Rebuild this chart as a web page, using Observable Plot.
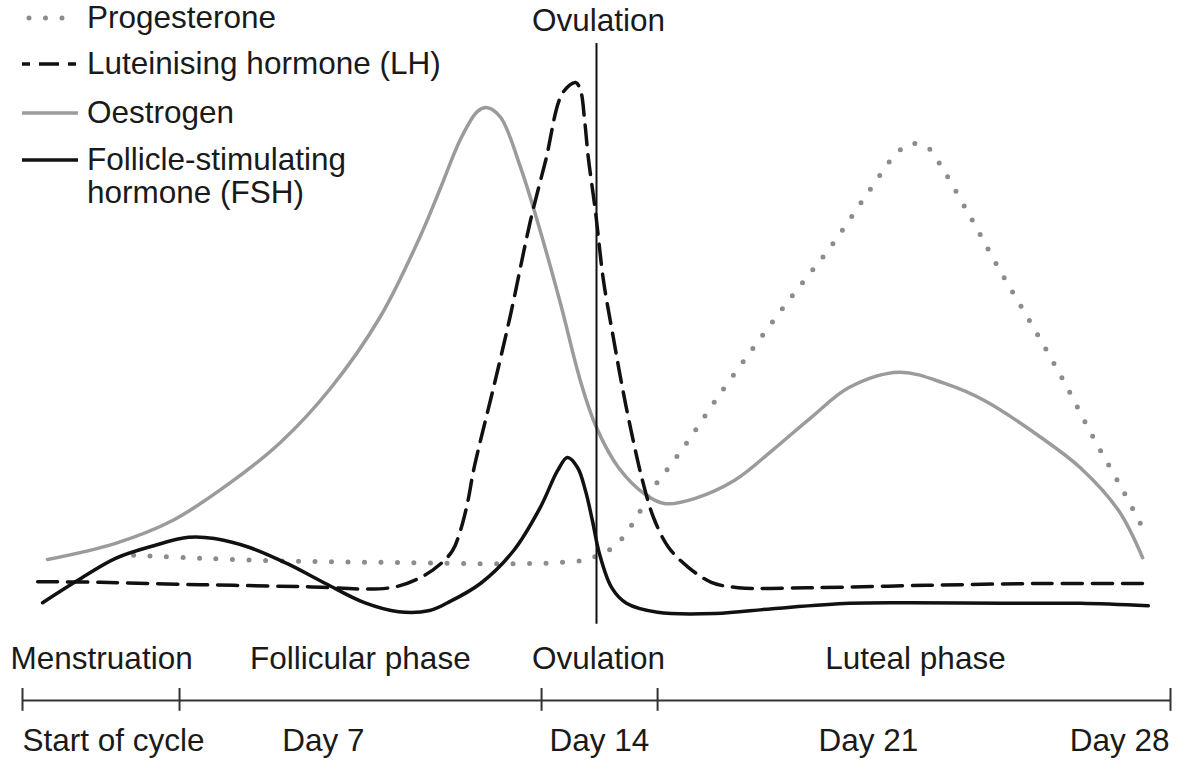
<!DOCTYPE html>
<html>
<head>
<meta charset="utf-8">
<script src="https://cdn.jsdelivr.net/npm/d3@7"></script>
<script src="https://cdn.jsdelivr.net/npm/@observablehq/plot@0.6"></script>
<style>
  html, body { margin: 0; padding: 0; background: #fff; }
  #wrap { position: relative; width: 1184px; height: 760px; font-family: "Liberation Sans", Arial, sans-serif; color: #1a1a1a; }
  #legend { position: absolute; left: 0; top: 0; width: 600px; }
  .row { position: absolute; left: 20px; display: flex; align-items: flex-start; font-size: 31.5px; line-height: 33px; white-space: nowrap; }
  .row svg { flex: none; }
  .row span { margin-left: 5px; }
</style>
</head>
<body>
<div id="wrap"></div>
<script>
// ---- data (x = day of cycle, level = relative hormone level) ----
const progesterone = [
  [2.71, 24.2], [4.34, 23.7], [6.78, 23.2], [9.22, 23.0], [11.66, 22.8], [13.12, 23.0],
  [13.76, 23.5], [14.12, 24.5], [14.46, 25.8], [14.93, 30.0], [15.34, 35.0], [15.76, 38.8],
  [16.24, 43.3], [16.90, 50.0], [17.83, 58.8], [18.78, 67.5], [19.73, 75.8], [20.63, 84.7],
  [21.32, 91.2], [21.63, 92.7], [22.02, 92.5], [22.27, 90.5], [23.07, 81.2], [23.83, 71.8],
  [24.63, 62.5], [25.39, 53.3], [26.12, 43.8], [26.88, 34.5], [27.44, 27.2]
];
const lh = [
  [0.37, 19.8], [1.90, 19.7], [4.34, 19.3], [6.78, 19.0], [8.98, 18.8], [9.71, 20.5],
  [10.20, 22.8], [10.49, 25.0], [10.68, 28.3], [10.85, 32.8], [11.00, 38.3], [11.17, 43.3],
  [11.49, 52.2], [11.90, 64.2], [12.39, 80.0], [12.76, 90.0], [13.17, 101.2], [13.49, 103.0],
  [13.61, 101.7], [13.71, 96.7], [13.80, 90.5], [13.98, 81.2], [14.17, 70.0], [14.41, 60.5],
  [14.63, 52.2], [14.88, 43.8], [15.12, 36.7], [15.39, 30.5], [15.76, 25.5], [16.24, 22.2],
  [16.80, 19.7], [17.46, 18.8], [19.24, 18.8], [22.05, 19.2], [24.88, 19.5], [27.46, 19.5]
];
const oestrogen = [
  [0.61, 23.5], [2.27, 26.2], [3.66, 30.0], [5.07, 36.3], [6.29, 43.0], [7.51, 52.0],
  [8.73, 64.0], [9.71, 77.5], [10.20, 85.5], [10.68, 93.5], [11.10, 98.2], [11.34, 98.8],
  [11.66, 97.2], [12.15, 88.8], [12.63, 78.2], [13.12, 66.2], [13.61, 53.2], [13.98, 45.8],
  [14.54, 38.8], [15.20, 34.3], [15.68, 32.8], [16.41, 33.7], [17.37, 36.7], [18.29, 41.7],
  [19.24, 47.2], [20.17, 52.2], [21.39, 54.7], [22.51, 52.8], [23.46, 50.0], [24.85, 43.8],
  [25.80, 38.8], [26.73, 31.7], [27.32, 23.8]
];
const fsh = [
  [0.49, 16.3], [1.34, 20.0], [2.27, 23.7], [3.20, 25.8], [4.05, 27.2], [4.68, 27.0],
  [5.54, 25.5], [6.46, 22.8], [7.39, 19.5], [8.34, 16.3], [9.17, 14.8], [9.93, 15.0],
  [10.37, 16.3], [11.17, 19.5], [11.98, 25.0], [12.63, 32.2], [13.05, 38.3], [13.29, 40.5],
  [13.54, 38.8], [13.73, 35.0], [13.90, 30.0], [14.07, 24.5], [14.37, 18.8], [14.73, 16.2],
  [15.49, 14.7], [16.90, 14.5], [18.29, 15.3], [20.17, 16.2], [21.59, 16.3], [23.93, 16.2],
  [25.80, 16.2], [27.46, 15.8]
];
const ovulationDay = [14];
const phaseBoundaries = [0, 3.83, 12.66, 15.49, 28];
const phaseLabels = [
  {label: "Menstruation", day: 1.93},
  {label: "Follicular phase", day: 8.24},
  {label: "Ovulation", day: 14.05},
  {label: "Luteal phase", day: 21.78}
];
const dayLabels = [
  {label: "Start of cycle", day: 2.22},
  {label: "Day 7", day: 7.34},
  {label: "Day 14", day: 14.07},
  {label: "Day 21", day: 20.63},
  {label: "Day 28", day: 26.76}
];
const topLabel = [{label: "Ovulation", day: 14.05}];

const legendItems = [
  {name: "Progesterone", stroke: "#8c8c8c", dash: "0 16.5", cap: "round", width: 5, top: 1},
  {name: "Luteinising hormone (LH)", stroke: "#111", dash: "8 9 20 9 8", cap: "butt", width: 3.5, top: 47},
  {name: "Oestrogen", stroke: "#9b9b9b", dash: null, cap: "butt", width: 3.5, top: 96},
  {name: "Follicle-stimulating<br>hormone (FSH)", stroke: "#111", dash: null, cap: "butt", width: 3.5, top: 143}
];

// ---- chart ----
const F = "'Liberation Sans', Arial, sans-serif";
const FS = 31.5;
const lineOpts = (stroke, extra) => Object.assign({x: d => d[0], y: d => d[1], stroke, strokeWidth: 3.5, curve: "catmull-rom"}, extra);

const chart = Plot.plot({
  width: 1184,
  height: 760,
  marginLeft: 22,
  marginRight: 14,
  marginTop: 40,
  marginBottom: 60,
  x: {domain: [0, 28], axis: null},
  y: {domain: [0, 110], axis: null},
  style: {background: "#fff", fontFamily: F, overflow: "visible"},
  marks: [
    Plot.line(oestrogen, lineOpts("#9b9b9b")),
    Plot.line(progesterone, lineOpts("#8c8c8c", {strokeWidth: 5, strokeDasharray: "0 16.5", strokeLinecap: "round"})),
    Plot.line(fsh, lineOpts("#111")),
    Plot.line(lh, lineOpts("#111", {strokeDasharray: "20 10"})),
    Plot.ruleX(ovulationDay, {y1: 12.7, y2: 109.5, stroke: "#111", strokeWidth: 2}),
    Plot.ruleY([0], {x1: 0, x2: 28, stroke: "#333", strokeWidth: 2}),
    Plot.ruleX(phaseBoundaries, {y1: -1.8, y2: 2.0, stroke: "#333", strokeWidth: 2}),
    Plot.text(phaseLabels, {x: "day", y: 7, text: "label", fontSize: FS, fill: "#1a1a1a", lineAnchor: "middle"}),
    Plot.text(dayLabels, {x: "day", y: -6.7, text: "label", fontSize: FS, fill: "#1a1a1a", lineAnchor: "middle"}),
    Plot.text(topLabel, {x: "day", y: 113.3, text: "label", fontSize: FS, fill: "#1a1a1a", lineAnchor: "middle"})
  ]
});

const wrap = document.getElementById("wrap");
wrap.appendChild(chart);

const legend = document.createElement("div");
legend.id = "legend";
for (const item of legendItems) {
  const row = document.createElement("div");
  row.className = "row";
  row.style.top = item.top + "px";
  const sw = `<svg width="62" height="33"><line x1="${item.cap === "round" ? 9 : 2}" x2="58" y1="17" y2="17" stroke="${item.stroke}" stroke-width="${item.width}" stroke-linecap="${item.cap}" ${item.dash ? `stroke-dasharray="${item.dash}"` : ""}/></svg>`;
  row.innerHTML = sw + `<span>${item.name}</span>`;
  legend.appendChild(row);
}
wrap.appendChild(legend);
</script>
</body>
</html>
